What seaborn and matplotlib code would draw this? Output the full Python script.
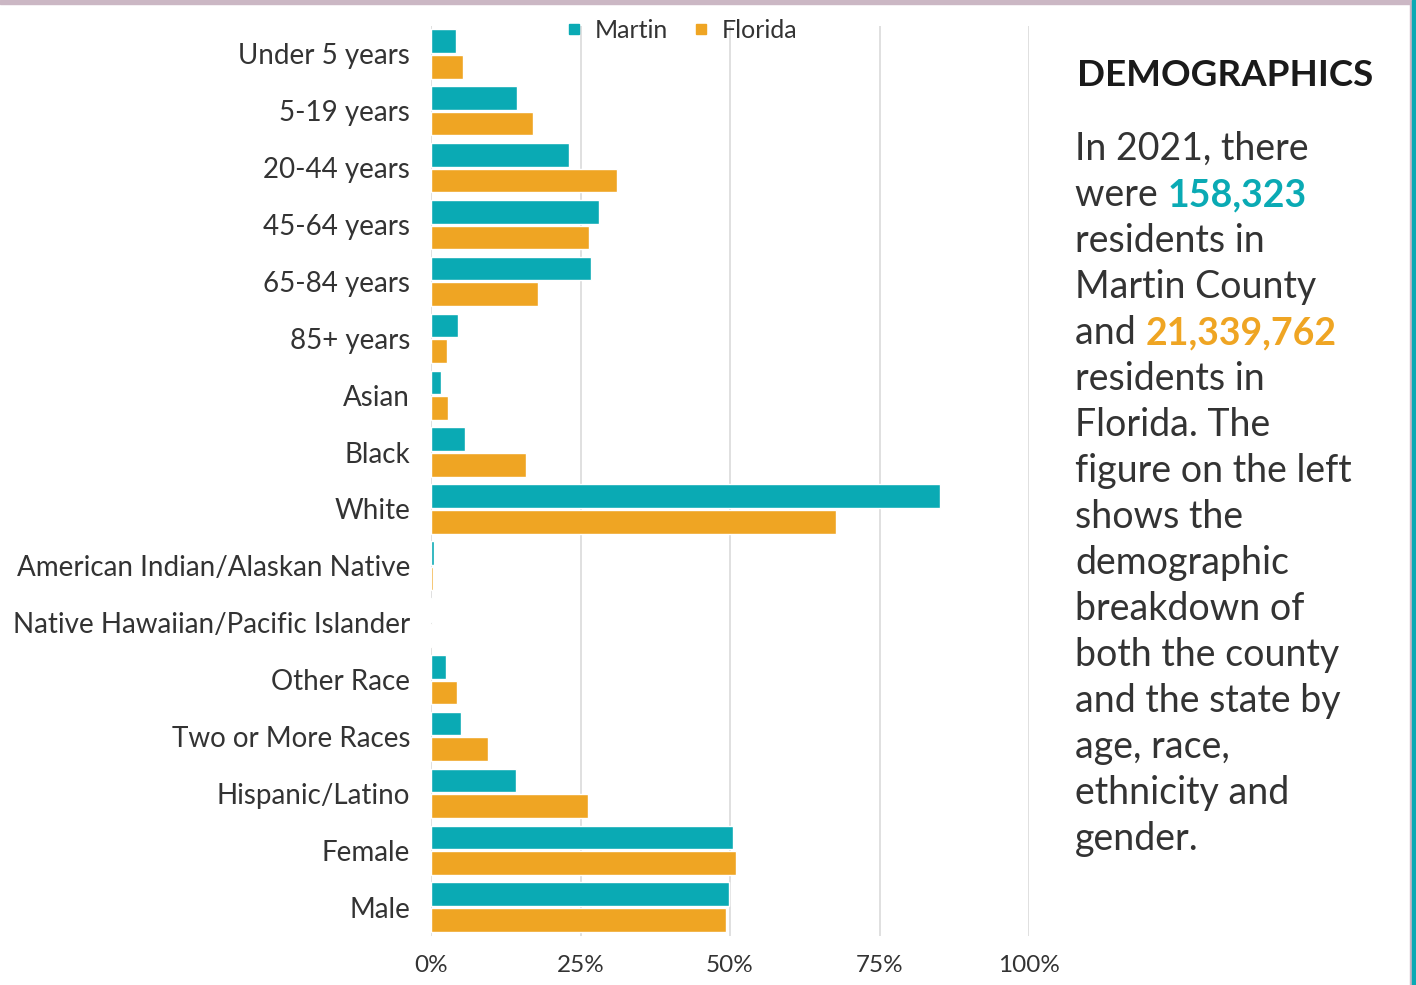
import matplotlib

matplotlib.use("Agg")

import matplotlib.pyplot as plt
import seaborn as sns
import pandas as pd
from matplotlib.lines import Line2D
from matplotlib.patches import Rectangle
from matplotlib.ticker import FuncFormatter


# ---------------------------------------------------------
# Data
# ---------------------------------------------------------

categories = [
    "Under 5 years",
    "5-19 years",
    "20-44 years",
    "45-64 years",
    "65-84 years",
    "85+ years",
    "Asian",
    "Black",
    "White",
    "American Indian/Alaskan Native",
    "Native Hawaiian/Pacific Islander",
    "Other Race",
    "Two or More Races",
    "Hispanic/Latino",
    "Female",
    "Male",
]

martin = [4.2, 14.4, 23.1, 28.1, 26.8, 4.5, 1.7, 5.7, 85.1, 0.5, 0.2, 2.5, 5.0, 14.2, 50.5, 49.8]
florida = [5.3, 17.1, 31.1, 26.4, 17.9, 2.7, 2.8, 15.9, 67.7, 0.3, 0.15, 4.3, 9.5, 26.3, 51.0, 49.3]

series = ["Martin", "Florida"]
x_ticks = [0, 25, 50, 75, 100]

body_lines = [
    ["In 2021, there"],
    ["were ", "158,323"],
    ["residents in"],
    ["Martin County"],
    ["and ", "21,339,762"],
    ["residents in"],
    ["Florida. The"],
    ["figure on the left"],
    ["shows the"],
    ["demographic"],
    ["breakdown of"],
    ["both the county"],
    ["and the state by"],
    ["age, race,"],
    ["ethnicity and"],
    ["gender."],
]


# ---------------------------------------------------------
# Style
# ---------------------------------------------------------

TEAL = "#0AAAB4"
ORANGE = "#EFA523"
TEXT = "#333333"
GRID = "#dadada"

sns.set_style("white")
plt.rcParams["font.family"] = ["Lato", "DejaVu Sans"]

df = pd.DataFrame({
    "Category": categories * 2,
    "Series": [series[0]] * len(categories) + [series[1]] * len(categories),
    "Value": martin + florida,
})


# ---------------------------------------------------------
# Bar Chart
# ---------------------------------------------------------

fig = plt.figure(figsize=(14.16, 9.85), dpi=100)

ax = fig.add_axes([431 / 1416, 1 - 935.5 / 985, 598 / 1416, 910 / 985])

sns.barplot(
    data=df,
    y="Category",
    x="Value",
    hue="Series",
    order=categories,
    hue_order=series,
    palette=[TEAL, ORANGE],
    saturation=1,
    orient="h",
    width=0.9,
    gap=0.08,
    legend=False,
    ax=ax,
)

ax.set_xlim(0, 100)
ax.set_xticks(x_ticks)
ax.xaxis.set_major_formatter(FuncFormatter(lambda v, p: f"{v:.0f}%"))
ax.grid(axis="x", color=GRID, linewidth=1.2)
ax.set_axisbelow(True)

for side in ["top", "right", "bottom", "left"]:
    ax.spines[side].set_visible(False)

ax.set_xlabel("")
ax.set_ylabel("")
ax.tick_params(axis="both", length=0, colors=TEXT)
ax.tick_params(axis="y", labelsize=20, pad=15)
ax.tick_params(axis="x", labelsize=17.5, pad=14)


# ---------------------------------------------------------
# Legend
# ---------------------------------------------------------

handles = [
    Line2D([], [], marker="s", linestyle="", color=TEAL, markersize=7),
    Line2D([], [], marker="s", linestyle="", color=ORANGE, markersize=7),
]

fig.legend(
    handles,
    series,
    loc="center",
    bbox_to_anchor=(682 / 1416, 1 - 30 / 985),
    ncol=2,
    frameon=False,
    fontsize=18,
    handlelength=0.6,
    handletextpad=0.5,
    columnspacing=1.05,
    labelcolor=TEXT,
)


# ---------------------------------------------------------
# Side Text
# ---------------------------------------------------------

fig.text(
    1077 / 1416,
    1 - 75 / 985,
    "DEMOGRAPHICS",
    fontsize=26.5,
    fontweight="bold",
    color="#1a1a1a",
    va="center",
)

renderer = fig.canvas.get_renderer()
text_x = 1075 / 1416

for i, parts in enumerate(body_lines):
    y = 1 - (149 + 46 * i) / 985
    first = fig.text(text_x, y, parts[0], fontsize=27, color=TEXT, va="center")
    if len(parts) > 1:
        box = first.get_window_extent(renderer=renderer)
        colour = TEAL if i == 1 else ORANGE
        fig.text(
            box.x1 / fig.bbox.width,
            y,
            parts[1],
            fontsize=27,
            fontweight="bold",
            color=colour,
            va="center",
        )


# ---------------------------------------------------------
# Borders
# ---------------------------------------------------------

fig.patches.append(Rectangle((0, 1 - 4 / 985), 1, 4 / 985, transform=fig.transFigure,
                             color="#cbb7c4", zorder=0))
fig.patches.append(Rectangle((1410 / 1416, 0), 2 / 1416, 1, transform=fig.transFigure,
                             color="#cbb7c4", zorder=0))
fig.patches.append(Rectangle((1412 / 1416, 0), 4 / 1416, 1, transform=fig.transFigure,
                             color=TEAL, zorder=0))

fig.savefig("out.png", dpi=100)
plt.close(fig)
